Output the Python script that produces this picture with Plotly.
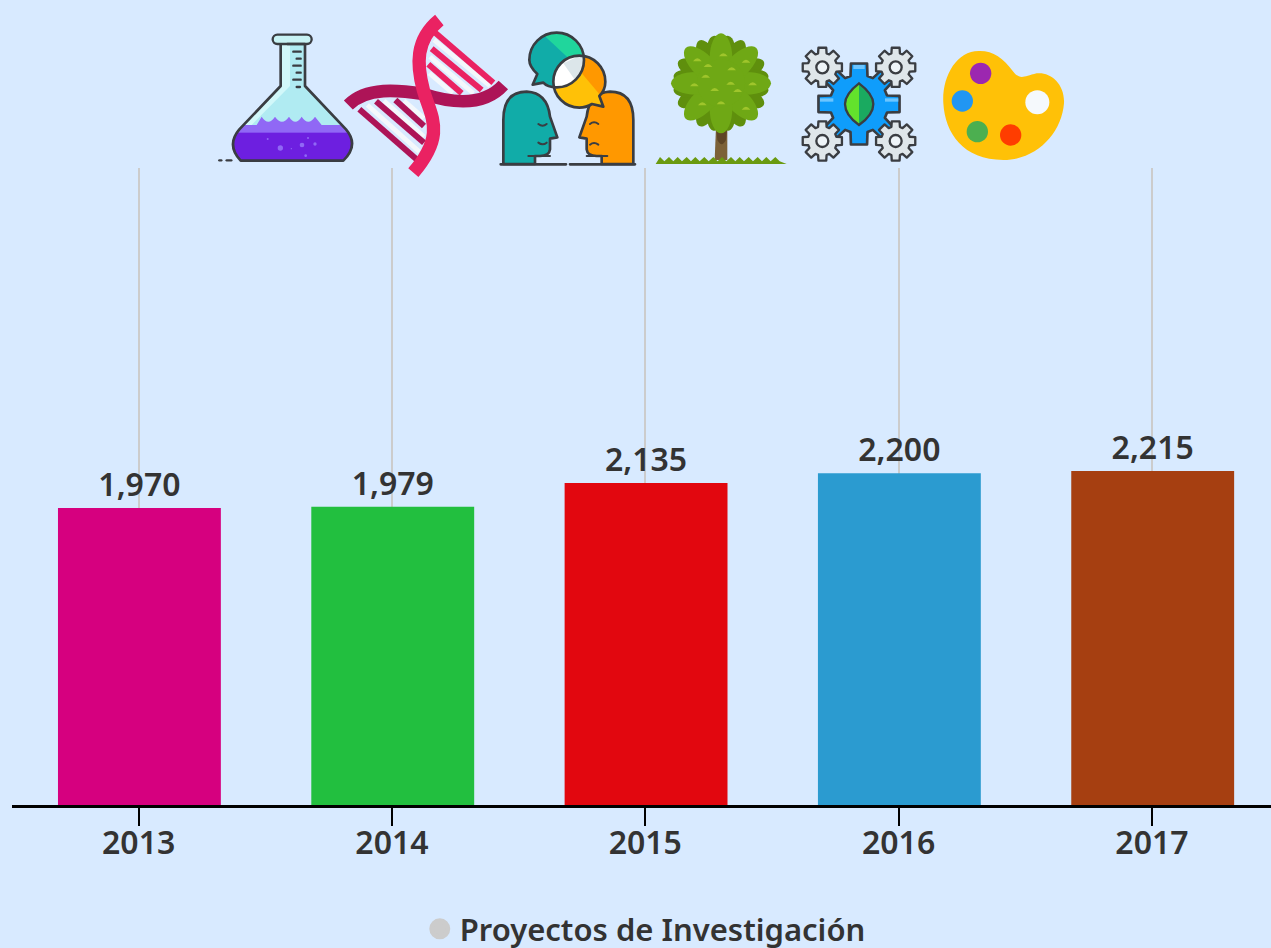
import base64
import math
import plotly.graph_objects as go

years = ["2013", "2014", "2015", "2016", "2017"]
projects = [1970, 1979, 2135, 2200, 2215]
bar_colors = ["#d6007f", "#22bf3f", "#e2070f", "#2b9bd0", "#a63f11"]
series_name = "Proyectos de Investigación"

W, H = 1271, 948
L, R, T, B = 12, 0, 168, 143
PW, PH = W - L - R, H - T - B
INK = "#3a3d42"
FONT = "Noto Sans"


def place(body, ox, oy, vb):
    x, y, w, h = vb
    svg = (f'<svg xmlns="http://www.w3.org/2000/svg" width="{w}" height="{h}" '
           f'viewBox="{x} {y} {w} {h}">{body}</svg>')
    src = "data:image/svg+xml;base64," + base64.b64encode(svg.encode()).decode()
    px, py = ox + x / 3, oy + y / 3
    return dict(source=src, xref="paper", yref="paper", xanchor="left", yanchor="top",
                x=(px - L) / PW, y=(H - B - py) / PH, sizex=w / 3 / PW, sizey=h / 3 / PH,
                sizing="stretch", layer="above")


def gear(cx, cy, r_out, r_in, teeth=8):
    pts = []
    step = 2 * math.pi / teeth
    for i in range(teeth):
        a = i * step
        for da, r in ((-.30, r_in), (-.20, r_out), (.20, r_out), (.30, r_in)):
            t = a + da * step * 1.25
            pts.append(f"{cx + r * math.cos(t):.1f},{cy + r * math.sin(t):.1f}")
    return "M" + " L".join(pts) + " Z"


flask = f'''
<defs><clipPath id="fl"><path d="M212,105 L212,228 L88,358 Q48,405 92,452 L400,452 Q448,405 408,358 L285,228 L285,105 Z"/></clipPath></defs>
<path d="M212,105 L212,228 L88,358 Q48,405 92,452 L400,452 Q448,405 408,358 L285,228 L285,105 Z" fill="#b0ebf2"/>
<g clip-path="url(#fl)">
<path d="M212,100 L240,100 L240,228 L120,350 L60,350 Z" fill="#d2f8fa"/>
<path d="M40,345 L140,345 L155,320 Q175,350 195,320 Q216,350 237,320 Q256,350 275,320 Q295,350 315,320 L335,345 L460,345 L460,380 L40,380 Z" fill="#9068f5"/>
<rect x="40" y="368" width="420" height="90" fill="#6d1fe0"/>
<g fill="#9068f5"><circle cx="211" cy="414" r="8"/><circle cx="276" cy="405" r="7"/><circle cx="315" cy="402" r="5"/><circle cx="287" cy="437" r="4"/><circle cx="173" cy="387" r="3"/><circle cx="294" cy="384" r="3"/><circle cx="244" cy="416" r="2"/></g>
</g>
<path d="M212,105 L212,228 L88,358 Q48,405 92,452 L400,452 Q448,405 408,358 L285,228 L285,105" fill="none" stroke="{INK}" stroke-width="8" stroke-linejoin="round"/>
<rect x="188" y="74" width="117" height="28" rx="14" fill="#c8f3f5" stroke="{INK}" stroke-width="7"/>
<g stroke="{INK}" stroke-width="7" stroke-linecap="round">
<path d="M232,102 H284"/><path d="M250,125 H272"/><path d="M260,146 H272"/><path d="M250,167 H272"/><path d="M260,188 H272"/><path d="M250,209 H272"/><path d="M260,231 H270"/>
<path d="M28,451 H34"/><path d="M50,451 H64"/></g>
'''

dna = '''
<g stroke="#f4f8fc" stroke-width="14" fill="none">
<path d="M672,90 L840,228"/><path d="M660,140 L790,250"/><path d="M658,190 L728,250"/>
<path d="M472,285 L628,425"/><path d="M522,272 L642,380"/><path d="M582,272 L642,325"/></g>
<g stroke="#ea2262" stroke-width="18" fill="none">
<path d="M673,66 L850,218"/><path d="M665,116 L815,240"/><path d="M655,163 L755,250"/></g>
<g stroke="#ad1457" stroke-width="18" fill="none">
<path d="M448,298 L622,450"/><path d="M498,274 L642,398"/><path d="M556,270 L642,348"/></g>
<path d="M415,285 C470,230 565,240 640,252 C720,278 820,292 880,225" fill="none" stroke="#ad1457" stroke-width="38"/>
<path d="M688,30 C615,90 620,165 640,240 C662,320 710,370 610,488" fill="none" stroke="#ea2262" stroke-width="40"/>
'''

head = ('M880,462 L880,330 Q880,245 950,245 Q1012,248 1020,320 L1042,382 L1020,386 '
        'L1020,418 Q1018,437 990,438 L975,438 L975,462 Z')
bub1 = 'M1040,68 A82,82 0 1 1 1040,232 Q1012,232 1000,218 L968,224 L982,192 Q958,170 958,150 A82,82 0 0 1 1040,68 Z'
bub2 = 'M1108,137 A78,78 0 0 1 1186,215 Q1186,240 1168,258 L1180,290 L1146,282 Q1128,293 1108,293 A78,78 0 0 1 1108,137 Z'
chat = f'''
<defs>
<clipPath id="b1"><path d="{bub1}"/></clipPath>
<clipPath id="b2"><path d="{bub2}"/></clipPath>
</defs>
<path d="{head}" fill="#11aca8" stroke="{INK}" stroke-width="8" stroke-linejoin="round"/>
<path d="{head}" transform="translate(2150,0) scale(-1,1)" fill="#ff9800" stroke="{INK}" stroke-width="8" stroke-linejoin="round"/>
<g fill="none" stroke="{INK}" stroke-width="6" stroke-linecap="round">
<path d="M985,342 Q998,352 1010,342"/><path d="M985,398 Q998,408 1010,398"/>
<path d="M1165,342 Q1152,332 1140,342"/><path d="M1165,404 Q1152,394 1140,404"/>
<path d="M955,438 H1020"/><path d="M1130,438 H1192"/></g>
<path d="M872,463 H1068 M1080,463 H1275" stroke="{INK}" stroke-width="8" stroke-linecap="round"/>
<path d="{bub1}" fill="#11aca8"/>
<g clip-path="url(#b1)"><path d="M985,60 L1140,60 L1140,205 Z" fill="#20d69c"/></g>
<path d="{bub2}" fill="#ffc107"/>
<g clip-path="url(#b2)"><path d="M1065,130 L1200,130 L1200,290 Z" fill="#ff9800"/>
<g clip-path="url(#b1)"><rect x="1000" y="120" width="140" height="120" fill="#fff"/><path d="M1060,160 L1125,130 L1140,240 L1095,210 Z" fill="#dce6ea"/></g></g>
<path d="{bub1}" fill="none" stroke="{INK}" stroke-width="8" stroke-linejoin="round"/>
<path d="{bub2}" fill="none" stroke="{INK}" stroke-width="8" stroke-linejoin="round"/>
'''


def petals(cx, cy, n, length, width, fill, off=0.0):
    out = []
    for i in range(n):
        ang = off + i * 360 / n
        out.append(f'<ellipse cx="{cx + length}" cy="{cy}" rx="{length}" ry="{width}" '
                   f'fill="{fill}" transform="rotate({ang:.1f} {cx} {cy})"/>')
    return "".join(out)


caps = [(172, 118), (204, 135), (318, 122), (275, 145), (197, 167), (163, 193), (272, 188),
        (338, 190), (224, 207), (293, 210), (187, 250), (243, 247), (318, 263), (250, 103)]
grass = "M47,432 " + " ".join(f"L{60 + i * 26.6:.0f},411 L{73 + i * 26.6:.0f},424" for i in range(14)) + " L440,432 Z"
tree = (
    '<path d="M228,320 L262,320 L262,420 L224,420 Z" fill="#7c6138"/>'
    '<path d="M228,320 L262,320 L258,360 Q245,385 232,360 Z" fill="#5e4526"/>'
    + f'<circle cx="243" cy="190" r="122" fill="#5f8f0d"/>'
    + petals(243, 190, 20, 72, 30, "#5f8f0d", 9)
    + petals(243, 190, 8, 75, 34, "#6fa815", 0)
    + f'<circle cx="243" cy="190" r="72" fill="#6fa815"/>'
    + f'<path d="{grass}" fill="#6a9a10"/>'
    + "".join(f'<path d="M{x - 13},{y + 6} Q{x},{y - 12} {x + 13},{y + 6} Z" fill="#9fc52b"/>' for x, y in caps)
)

small = [(547, 142), (767, 142), (547, 363), (767, 363)]
gears = (
    f'<path d="{gear(657, 252, 124, 88)}" fill="#0f9dfb" stroke="{INK}" stroke-width="8" stroke-linejoin="round"/>'
    f'<g fill="#6cc5ff"><rect x="640" y="135" width="34" height="12"/><rect x="540" y="235" width="40" height="10"/><rect x="735" y="235" width="40" height="10"/></g>'
    f'<path d="M657,190 Q700,222 700,252 Q700,285 657,315 Z" fill="#1aaa60"/>'
    f'<path d="M657,190 Q615,222 615,252 Q615,285 657,315 Z" fill="#63e22c"/>'
    f'<path d="M657,190 Q700,222 700,252 Q700,285 657,315 Q615,285 615,252 Q615,222 657,190 Z" fill="none" stroke="{INK}" stroke-width="7"/>'
    + "".join(f'<path d="{gear(x, y, 60, 44)}" fill="#dfe6ea" stroke="{INK}" stroke-width="7" stroke-linejoin="round"/>'
              f'<circle cx="{x}" cy="{y}" r="18" fill="#eef4f8" stroke="{INK}" stroke-width="7"/>' for x, y in small)
)

palette = '''
<path d="M1020,93 C950,90 905,170 910,250 C915,340 970,420 1090,420 C1190,420 1265,340 1272,250 C1275,190 1230,155 1190,160 C1150,170 1140,180 1120,155 C1090,115 1060,93 1020,93 Z" fill="#ffc107"/>
<circle cx="1022" cy="160" r="32" fill="#9c27b0"/><circle cx="967" cy="243" r="32" fill="#2196f3"/>
<circle cx="1012" cy="335" r="32" fill="#4caf50"/><circle cx="1112" cy="345" r="32" fill="#ff3d00"/>
<circle cx="1192" cy="247" r="36" fill="#f5f9fc"/>
'''

icons = [
    place(flask, 210, 10, (10, 60, 450, 410)),
    place(dna, 210, 10, (400, 10, 500, 500)),
    place(chat, 210, 10, (860, 60, 425, 420)),
    place(tree, 640, 20, (40, 30, 410, 410)),
    place(gears, 640, 20, (475, 70, 365, 365)),
    place(palette, 640, 20, (900, 85, 380, 345)),
]

fig = go.Figure()
fig.add_trace(go.Bar(
    x=years, y=projects, marker=dict(color=bar_colors, line=dict(width=0)), width=0.643,
    offset=-0.3185, texttemplate="%{y:,}", textposition="outside", cliponaxis=False, showlegend=False,
    textfont=dict(family=FONT, size=32, color="#333333", weight=600),
))
fig.add_trace(go.Scatter(
    x=[years[0]], y=[None], name=series_name, mode="markers",
    marker=dict(color="#cccccc", size=16, line=dict(color="#cccccc", width=5)),
))
fig.update_layout(
    width=W, height=H, margin=dict(l=L, r=R, t=T, b=B, autoexpand=False),
    paper_bgcolor="#d8eaff", plot_bgcolor="#d8eaff", images=icons,
    showlegend=True,
    legend=dict(orientation="h", x=0.503, xanchor="center", y=-0.195, yanchor="middle",
                font=dict(family=FONT, size=31, color="#333333", weight=600),
                bgcolor="rgba(0,0,0,0)"),
    xaxis=dict(type="category", range=[-0.5, 4.47], showgrid=True, gridcolor="#cccccc", gridwidth=2,
               showline=True, linecolor="#000000", linewidth=3, ticks="outside", ticklen=18,
               tickwidth=1.5, tickcolor="#000000", ticklabelstandoff=-10,
               tickfont=dict(family=FONT, size=32, color="#333333", weight=600)),
    yaxis=dict(range=[0, 4225], visible=False, showgrid=False, zeroline=False),
)
fig.write_html("out.html", config={"displayModeBar": False},
               post_script="document.body.style.margin='0';document.body.style.background='#d8eaff';document.documentElement.style.overflow='hidden';")
